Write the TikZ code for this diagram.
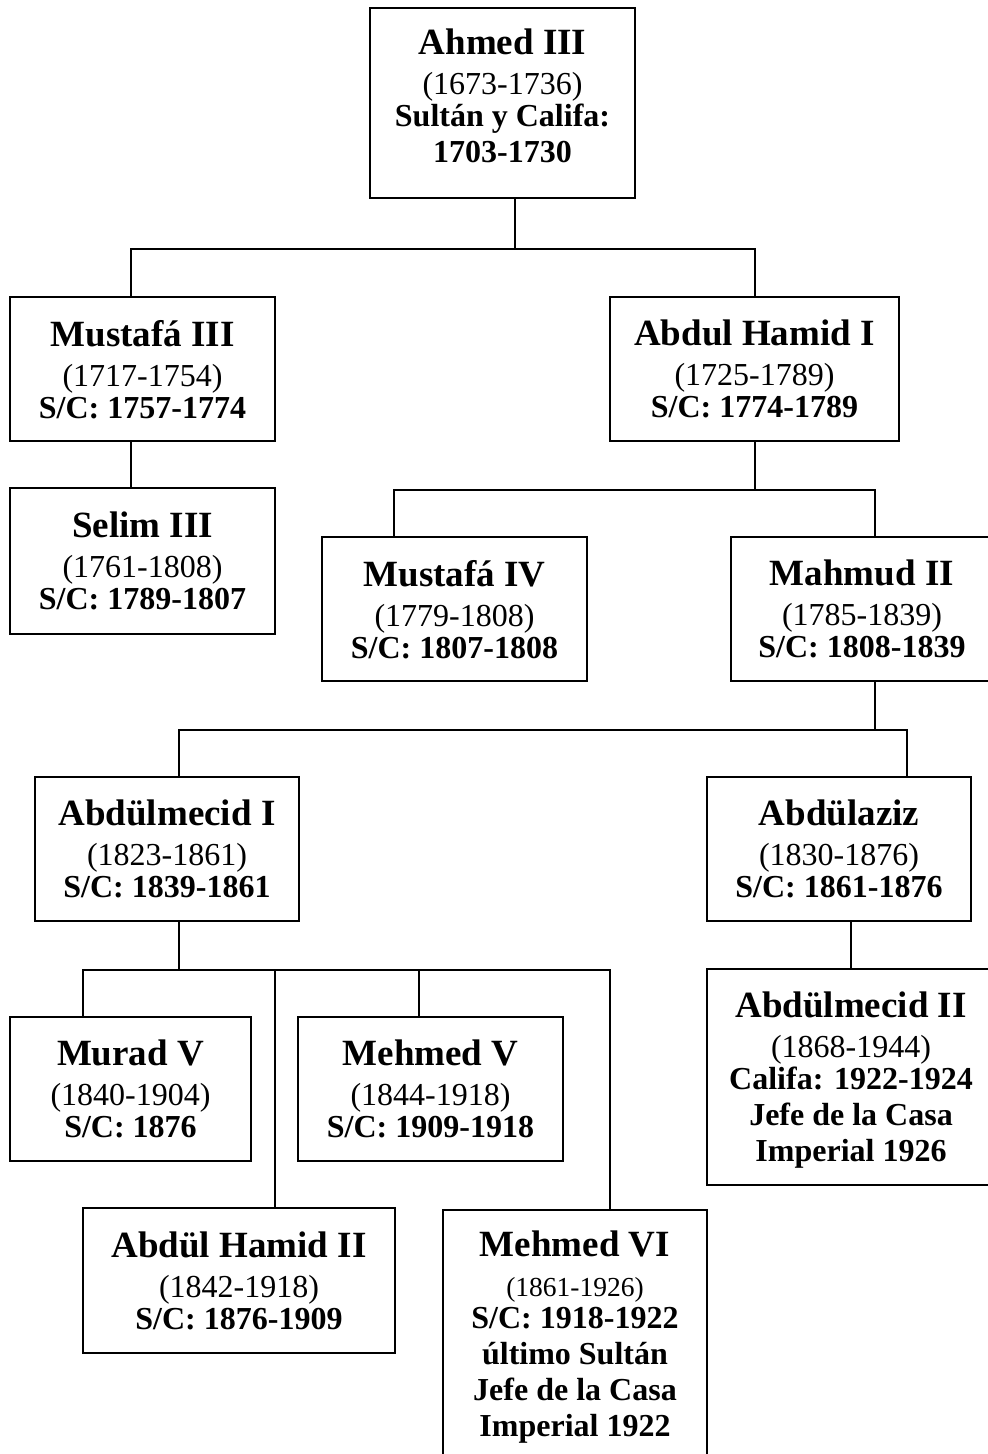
\documentclass[tikz,border=0pt]{standalone}
\usepackage{fontspec}
\setmainfont{Liberation Serif}

% name line, life span and reign lines of a family-tree box
\newcommand\who[1]{{\fontsize{37}{40}\selectfont\bfseries #1}\\[4pt]}
\newcommand\life[1]{(#1)\\[-4pt]}
\newcommand\reign[1]{\textbf{#1}}

\tikzset{
  person/.style={draw, line width=2.6pt, inner sep=0pt, align=center,
    text depth=0pt, font=\fontsize{32}{36}\selectfont},
  link/.style={line width=2pt},
}

\begin{document}
\begin{tikzpicture}[x=1pt, y=-1pt]
\useasboundingbox (0,0) rectangle (988,1454);
\fill[white] (0,0) rectangle (988,1454);
\clip (0,0) rectangle (988,1454);

% ---- generation 1
\node[person, text depth=14pt, minimum width=265pt, minimum height=190pt] (ahmed) at (502.5,103)
  {\who{Ahmed III}\life{1673-1736}\reign{Sultán y Califa:}\\\reign{1703-1730}};

% ---- generation 2
\node[person, minimum width=265pt, minimum height=144pt] (mus3) at (142.5,369)
  {\who{Mustafá III}\life{1717-1754}\reign{S/C: 1757-1774}};
\node[person, minimum width=289pt, minimum height=144pt] (ah1) at (754.5,369)
  {\who{Abdul Hamid I}\life{1725-1789}\reign{S/C: 1774-1789}};

% ---- generation 3
\node[person, minimum width=265pt, minimum height=146pt] (selim) at (142.5,561)
  {\who{Selim III}\life{1761-1808}\reign{S/C: 1789-1807}};
\node[person, minimum width=265pt, minimum height=144pt] (mus4) at (454.5,609)
  {\who{Mustafá IV}\life{1779-1808}\reign{S/C: 1807-1808}};
\node[person, minimum width=262pt, minimum height=144pt] (mah2) at (862,609)
  {\who{Mahmud II}\life{1785-1839}\reign{S/C: 1808-1839}};

% ---- generation 4
\node[person, minimum width=264pt, minimum height=144pt] (abd1) at (167,849)
  {\who{Abdülmecid I}\life{1823-1861}\reign{S/C: 1839-1861}};
\node[person, minimum width=264pt, minimum height=144pt] (abdaz) at (839,849)
  {\who{Abdülaziz}\life{1830-1876}\reign{S/C: 1861-1876}};

% ---- generation 5
\node[person, minimum width=241pt, minimum height=144pt] (murad) at (130.5,1089)
  {\who{Murad V}\life{1840-1904}\reign{S/C: 1876}};
\node[person, minimum width=265pt, minimum height=144pt] (meh5) at (430.5,1089)
  {\who{Mehmed V}\life{1844-1918}\reign{S/C: 1909-1918}};
\node[person, minimum width=288pt, minimum height=216pt] (abd2) at (851,1077)
  {\who{Abdülmecid II}\life{1868-1944}\reign{Califa: 1922-1924}\\
   \reign{Jefe de la Casa}\\\reign{Imperial 1926}};
\node[person, minimum width=312pt, minimum height=145pt] (ah2) at (239,1280.5)
  {\who{Abdül Hamid II}\life{1842-1918}\reign{S/C: 1876-1909}};
\node[person, minimum width=264pt, minimum height=247pt] (meh6) at (575,1333.5)
  {\who{Mehmed VI}{\fontsize{27.5}{30}\selectfont(1861-1926)}\\[-4pt]
   \reign{S/C: 1918-1922}\\\reign{último Sultán}\\
   \reign{Jefe de la Casa}\\\reign{Imperial 1922}};

% ---- descent lines
\coordinate (a0) at ([xshift=12.5pt]ahmed.south);
\draw[link] (a0) -- ++(0,50) coordinate (bus1);
\draw[link] ([xshift=-11.5pt]mus3.north) |- (bus1) -| (ah1.north);

\draw[link] ([xshift=-11.5pt]mus3.south) -- ([xshift=-11.5pt]selim.north);

\draw[link] (ah1.south) -- ++(0,48) coordinate (bus2);
\draw[link] ([xshift=-60.5pt]mus4.north) |- (bus2) -| ([xshift=13pt]mah2.north);

\draw[link] ([xshift=12.5pt]mah2.south) -- ++(0,48) coordinate (bus3);
\draw[link] ([xshift=12pt]abd1.north) |- (bus3) -| ([xshift=68pt]abdaz.north);

\draw[link] ([xshift=12pt]abd1.south) -- ++(0,48) coordinate (bus4);
\draw[link] ([xshift=-47.5pt]murad.north) |- (bus4) -| ([xshift=35pt]meh6.north);
\coordinate (m5) at ([xshift=-11.5pt]meh5.north);
\draw[link] (m5) -- (m5 |- bus4);
\coordinate (h2) at ([xshift=36pt]ah2.north);
\draw[link] (h2) -- (h2 |- bus4);

\draw[link] ([xshift=12pt]abdaz.south) -- (abd2.north);
\end{tikzpicture}
\end{document}
